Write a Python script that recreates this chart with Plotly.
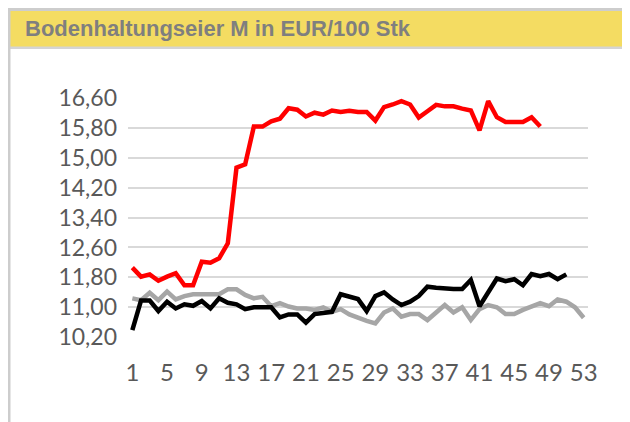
import plotly.graph_objects as go

weeks = list(range(1, 54))

red_vals = [12.06, 11.82, 11.88, 11.71, 11.82, 11.91, 11.59, 11.59, 12.22, 12.19,
            12.31, 12.71, 14.73, 14.82, 15.83, 15.83, 15.97, 16.04, 16.32, 16.28,
            16.10, 16.20, 16.15, 16.26, 16.22, 16.25, 16.22, 16.22, 15.99, 16.35,
            16.42, 16.51, 16.42, 16.07, 16.24, 16.41, 16.37, 16.37, 16.31, 16.26,
            15.73, 16.51, 16.08, 15.95, 15.95, 15.95, 16.08, 15.83]

black_vals = [10.39, 11.18, 11.18, 10.90, 11.15, 10.97, 11.08, 11.04, 11.17, 10.97,
              11.24, 11.12, 11.08, 10.95, 11.00, 11.00, 11.00, 10.73, 10.81, 10.81,
              10.59, 10.82, 10.85, 10.88, 11.35, 11.30, 11.22, 10.90, 11.30, 11.40,
              11.21, 11.06, 11.15, 11.30, 11.55, 11.52, 11.49, 11.49, 11.49, 11.73,
              11.03, 11.39, 11.77, 11.70, 11.75, 11.59, 11.89, 11.83, 11.89, 11.75,
              11.88]

gray_vals = [11.24, 11.19, 11.39, 11.19, 11.42, 11.21, 11.30, 11.35, 11.35, 11.35,
             11.35, 11.48, 11.48, 11.33, 11.24, 11.28, 11.03, 11.11, 11.02, 10.97,
             10.97, 10.93, 11.00, 10.88, 10.95, 10.81, 10.71, 10.64, 10.57, 10.86,
             10.97, 10.75, 10.82, 10.82, 10.66, 10.88, 11.06, 10.86, 11.00, 10.66,
             10.95, 11.06, 11.00, 10.82, 10.82, 10.93, 11.03, 11.11, 11.03, 11.21,
             11.15, 11.00, 10.72]

y_ticks = [10.20, 11.00, 11.80, 12.60, 13.40, 14.20, 15.00, 15.80, 16.60]
x_ticks = list(range(1, 54, 4))
title_text = "Bodenhaltungseier M in EUR/100 Stk"

# page body has an 8px margin; work in window pixel coordinates and subtract it
OFF = 8
W, H = 630 - OFF, 422 - OFF
L, R, T, B = 128 - OFF, 588 - OFF, 97 - OFF, 338 - OFF
YMIN, YMAX = 10.18, 16.62


def px(x):
    return (x - OFF - L) / (R - L)


def py(y):
    return (B - (y - OFF)) / (B - T)


fig = go.Figure()
fig.add_trace(go.Scatter(x=weeks[:len(gray_vals)], y=gray_vals, mode="lines",
                         line=dict(color="#A6A6A6", width=4.5), hoverinfo="skip"))
fig.add_trace(go.Scatter(x=weeks[:len(black_vals)], y=black_vals, mode="lines",
                         line=dict(color="#000000", width=4.5), hoverinfo="skip"))
fig.add_trace(go.Scatter(x=weeks[:len(red_vals)], y=red_vals, mode="lines",
                         line=dict(color="#FF0000", width=4.5), hoverinfo="skip"))

shapes = [
    # yellow title band
    dict(type="rect", xref="paper", yref="paper", x0=px(10), x1=px(640), y0=py(47), y1=py(11),
         fillcolor="#F4DC62", line=dict(width=0), layer="below"),
    # top gray border
    dict(type="rect", xref="paper", yref="paper", x0=px(8), x1=px(640), y0=py(11), y1=py(8),
         fillcolor="#CDCDCD", line=dict(width=0), layer="below"),
    # bottom gray border of band
    dict(type="rect", xref="paper", yref="paper", x0=px(8), x1=px(640), y0=py(49), y1=py(46.5),
         fillcolor="#D4D4D4", line=dict(width=0), layer="below"),
    # left gray border
    dict(type="rect", xref="paper", yref="paper", x0=px(8), x1=px(10.5), y0=py(430), y1=py(8),
         fillcolor="#CDCDCD", line=dict(width=0), layer="below"),
]

fig.add_annotation(text=title_text, xref="paper", yref="paper", x=px(23), y=py(28.5),
                   xanchor="left", yanchor="middle", showarrow=False,
                   font=dict(family="Liberation Sans", size=22, color="#7F7F7F", weight="bold"))

fig.update_layout(
    width=W, height=H,
    margin=dict(l=L, r=W - R, t=T, b=H - B, pad=0),
    paper_bgcolor="white", plot_bgcolor="white",
    showlegend=False,
    separators=",.",
    shapes=shapes,
    font=dict(family="Lato", color="#595959", size=23),
)
fig.update_xaxes(range=[0.5, 53.5], tickvals=x_ticks, showgrid=False, zeroline=False,
                 showline=False, ticks="", ticklabelstandoff=18,
                 tickfont=dict(family="Lato", size=24, color="#595959"))
fig.update_yaxes(range=[YMIN, YMAX], tickvals=y_ticks, tickformat=".2f", showgrid=True,
                 gridcolor="#D9D9D9", gridwidth=1.5, zeroline=False, showline=False,
                 ticks="", ticklabelstandoff=10,
                 tickfont=dict(family="Lato", size=23, color="#595959"))

fig.write_html("out.html")
